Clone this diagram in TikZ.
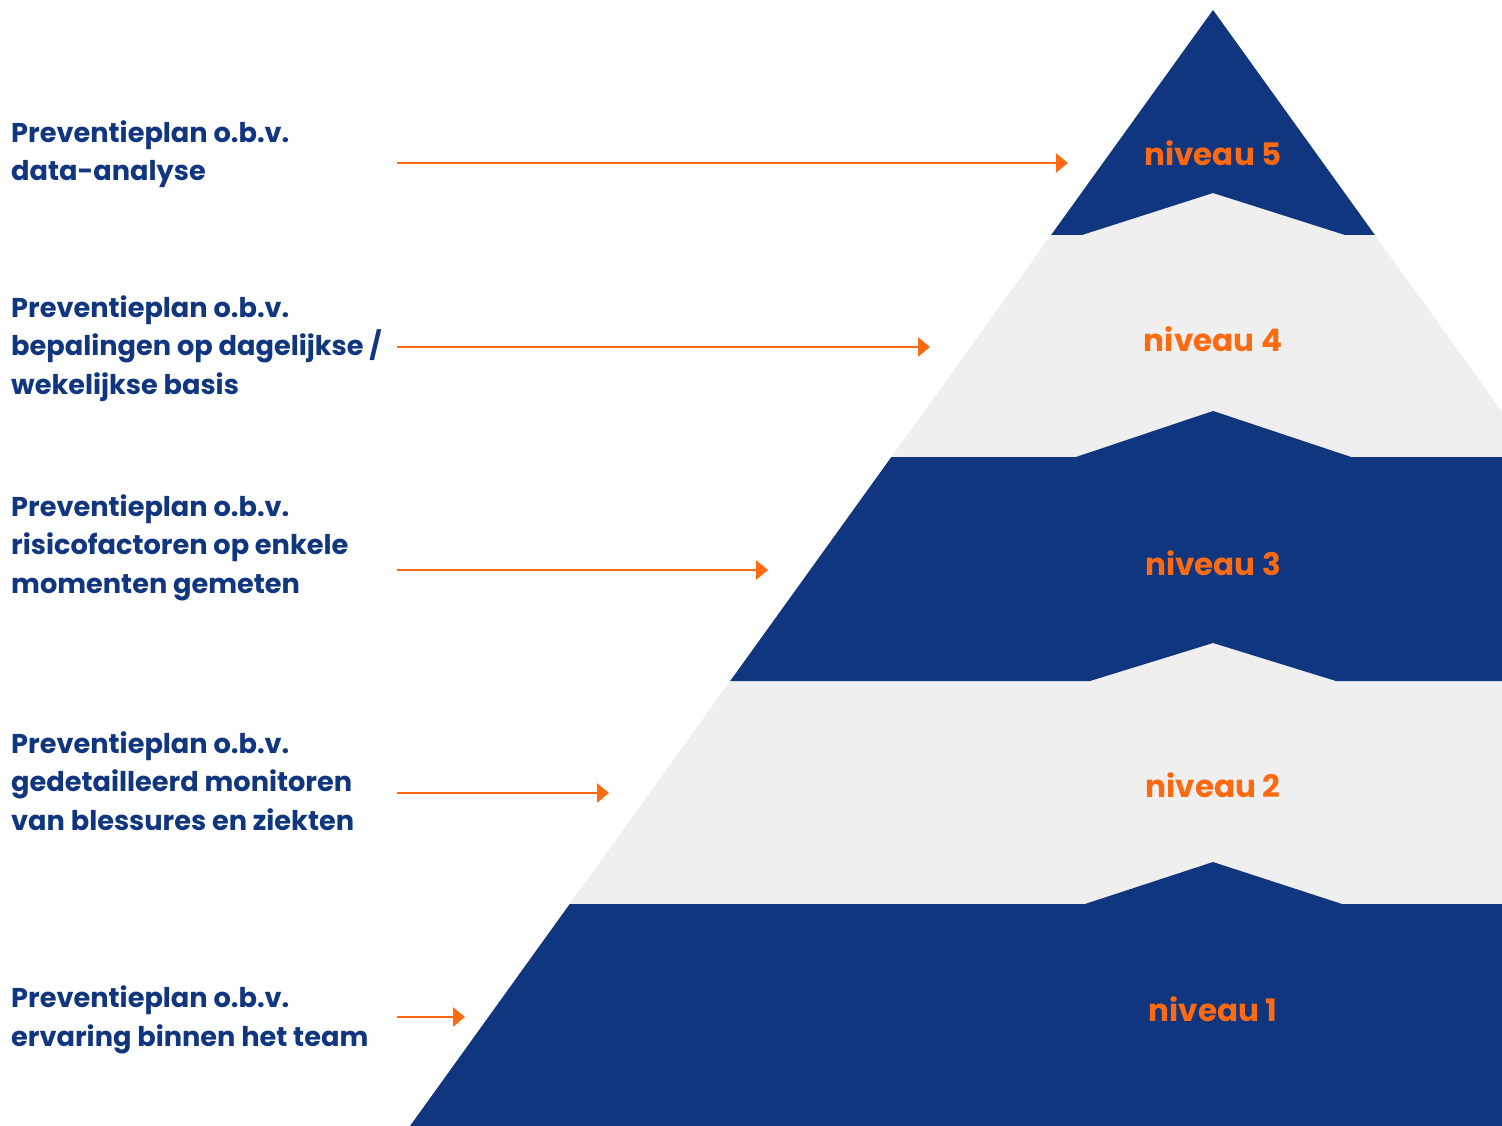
\documentclass[tikz,border=0pt]{standalone}
\usepackage{fontspec}
\setmainfont{Poppins}
\usetikzlibrary{arrows.meta}
\definecolor{navy}{HTML}{10367F}
\definecolor{orng}{HTML}{FF6A10}
\definecolor{lgray}{HTML}{EFEFEF}
\begin{document}
\begin{tikzpicture}[x=1pt,y=-1pt,
  lbl/.style={anchor=base west,inner sep=0pt,align=left,text=navy,font=\bfseries\fontsize{27.2}{38.5}\selectfont},
  niv/.style={inner sep=0pt,anchor=base,text=orng,font=\bfseries\fontsize{31}{31}\selectfont},
  arr/.style={draw=orng,line width=2.5pt,-{Triangle[length=12pt,width=19pt]}}]
\useasboundingbox (0,0) rectangle (1502,1126);
\begin{scope}
  \clip (1213,10) -- (410,1126) -- (2016,1126) -- cycle;
  \fill[lgray] (0,0) rectangle (1502,1126);
  \fill[navy] (0,0) -- (1600,0) -- (1600,235) -- (1345,235) -- (1213,193) -- (1082,235) -- (0,235) -- cycle;
  \fill[navy] (0,457) -- (1076,457) -- (1213,411) -- (1351,457) -- (1600,457) -- (1600,681) -- (1336,681) -- (1213,643) -- (1090,681) -- (0,681) -- cycle;
  \fill[navy] (0,904) -- (1085,904) -- (1213,862) -- (1342,904) -- (1600,904) -- (1600,1200) -- (0,1200) -- cycle;
\end{scope}
\node[niv] (n5) at (1213,166) {niveau 5};
\node[niv] (n4) at (1213,351) {niveau 4};
\node[niv] (n3) at (1213,575) {niveau 3};
\node[niv] (n2) at (1213,797) {niveau 2};
\node[niv] (n1) at (1213,1021) {niveau 1};
\node[lbl] (t5) at (11,181) {Preventieplan o.b.v.\\data-analyse};
\node[lbl] (t4) at (11,394) {Preventieplan o.b.v.\\bepalingen op dagelijkse /\\wekelijkse basis};
\node[lbl] (t3) at (11,593) {Preventieplan o.b.v.\\risicofactoren op enkele\\momenten gemeten};
\node[lbl] (t2) at (11,830) {Preventieplan o.b.v.\\gedetailleerd monitoren\\van blessures en ziekten};
\node[lbl] (t1) at (11,1046) {Preventieplan o.b.v.\\ervaring binnen het team};
\coordinate (s5) at (397,163); \coordinate (e5) at (1068,163);
\coordinate (s4) at (397,347); \coordinate (e4) at (930,347);
\coordinate (s3) at (397,570); \coordinate (e3) at (768,570);
\coordinate (s2) at (397,793); \coordinate (e2) at (609,793);
\coordinate (s1) at (397,1017); \coordinate (e1) at (465,1017);
\foreach \i in {1,...,5} \draw[arr] (s\i) -- (e\i);
\end{tikzpicture}
\end{document}
